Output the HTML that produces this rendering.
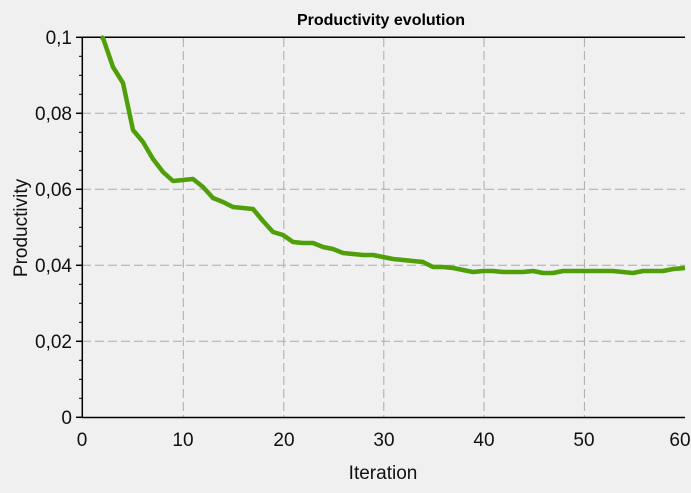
<!DOCTYPE html><html><head><style>body{margin:0;background:#f0f0f0;}svg{display:block}</style></head><body>
<svg width="691" height="493" font-family="Liberation Sans, sans-serif">
<rect width="691" height="493" fill="#f0f0f0"/>
<text x="381" y="25" font-size="16" font-weight="bold" text-anchor="middle">Productivity evolution</text>
<g stroke="#aaa" stroke-dasharray="9,4" stroke-width="1">
<line x1="183.3" y1="38" x2="183.3" y2="418"/><line x1="283.8" y1="38" x2="283.8" y2="418"/><line x1="383.8" y1="38" x2="383.8" y2="418"/><line x1="484" y1="38" x2="484" y2="418"/><line x1="584.4" y1="38" x2="584.4" y2="418"/>
<line x1="82" y1="113.3" x2="685" y2="113.3"/><line x1="82" y1="189.3" x2="685" y2="189.3"/><line x1="82" y1="265.3" x2="685" y2="265.3"/><line x1="82" y1="341.3" x2="685" y2="341.3"/>
</g>
<g stroke="#000" stroke-width="1.5">
<line x1="82.3" y1="37.3" x2="82.3" y2="418"/><line x1="82" y1="37.3" x2="685" y2="37.3"/><line x1="82" y1="417.5" x2="685" y2="417.5"/>
<line x1="76" y1="37.3" x2="82" y2="37.3"/><line x1="76" y1="113.3" x2="82" y2="113.3"/><line x1="76" y1="189.3" x2="82" y2="189.3"/><line x1="76" y1="265.3" x2="82" y2="265.3"/><line x1="76" y1="341.3" x2="82" y2="341.3"/><line x1="76" y1="417.3" x2="82" y2="417.3"/>
</g>
<g stroke="#000" stroke-width="1">
<line x1="79" y1="56.3" x2="82" y2="56.3"/><line x1="79" y1="75.3" x2="82" y2="75.3"/><line x1="79" y1="94.3" x2="82" y2="94.3"/>
<line x1="79" y1="132.3" x2="82" y2="132.3"/><line x1="79" y1="151.3" x2="82" y2="151.3"/><line x1="79" y1="170.3" x2="82" y2="170.3"/>
<line x1="79" y1="208.3" x2="82" y2="208.3"/><line x1="79" y1="227.3" x2="82" y2="227.3"/><line x1="79" y1="246.3" x2="82" y2="246.3"/>
<line x1="79" y1="284.3" x2="82" y2="284.3"/><line x1="79" y1="303.3" x2="82" y2="303.3"/><line x1="79" y1="322.3" x2="82" y2="322.3"/>
<line x1="79" y1="360.3" x2="82" y2="360.3"/><line x1="79" y1="379.3" x2="82" y2="379.3"/><line x1="79" y1="398.3" x2="82" y2="398.3"/>
</g>
<g font-size="19" text-anchor="end" fill="#111">
<text x="72" y="44">0,1</text><text x="72" y="120">0,08</text><text x="72" y="196">0,06</text><text x="72" y="272">0,04</text><text x="72" y="348">0,02</text><text x="72" y="424">0</text>
</g>
<g font-size="19" text-anchor="middle" fill="#111">
<text x="82" y="446">0</text><text x="183" y="446">10</text><text x="284" y="446">20</text><text x="384" y="446">30</text><text x="484" y="446">40</text><text x="584" y="446">50</text><text x="680" y="446">60</text>
<text x="383" y="479">Iteration</text>
<text transform="translate(27,228) rotate(-90)">Productivity</text>
</g>
<polyline fill="none" stroke="#4f9e0a" stroke-width="4.5" stroke-linejoin="round" points="101,37 103,38 113,67 123,83 133,130 143,142 153,159 163,172 173,181 183,180 193,179 203,187 213,198 223,202 233,207 243,208 253,209 263,221 273,232 283,235 293,242 303,243 313,243 323,247 333,249 343,253 353,254 363,255 373,255 383,257 393,259 403,260 413,261 423,262 433,267 443,267 453,268 463,270 473,272 483,271 493,271 503,272 513,272 523,272 533,271 543,273 553,273 563,271 573,271 583,271 593,271 603,271 613,271 623,272 633,273 643,271 653,271 663,271 673,269 685,268"/>
</svg></body></html>
